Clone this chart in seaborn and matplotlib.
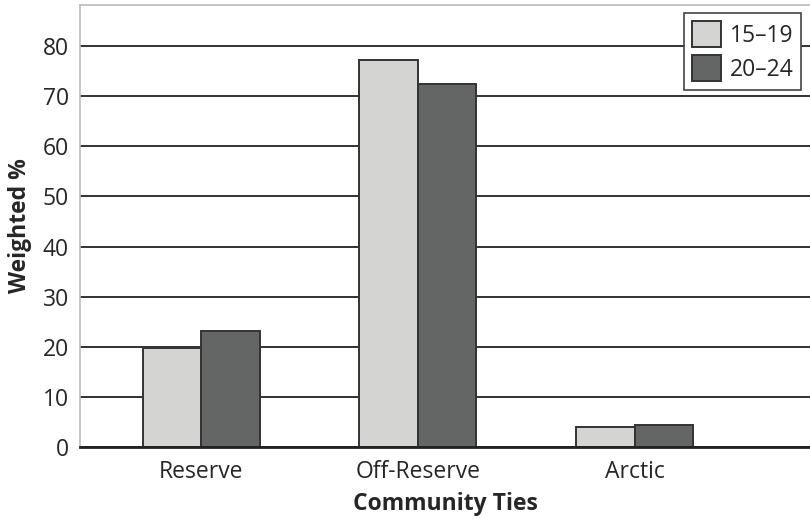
import pandas as pd
import matplotlib.pyplot as plt
import seaborn as sns
from matplotlib.ticker import FixedLocator

# Data
ties = ["Reserve", "Off-Reserve", "Arctic"]
ages = ["15\u201319", "20\u201324"]
pct_15_19 = [19.8, 77.3, 4.0]
pct_20_24 = [23.1, 72.5, 4.4]
y_ticks = [0, 10, 20, 30, 40, 50, 60, 70, 80]

df = pd.DataFrame({
    "tie": ties * 2,
    "age": [ages[0]] * 3 + [ages[1]] * 3,
    "pct": pct_15_19 + pct_20_24,
})

sns.set_style("white")
plt.rcParams["font.family"] = ["Open Sans", "DejaVu Sans"]

fig = plt.figure(figsize=(8.1, 5.19), dpi=100)
ax = fig.add_axes([80 / 810, 1 - 447 / 519, 730 / 810, 442 / 519])

sns.barplot(
    data=df, x="tie", y="pct", hue="age", ax=ax,
    palette=["#d4d4d2", "#636664"],
    width=0.54, gap=0,
    edgecolor="#333333", linewidth=1.4,
    zorder=3,
)

ax.set_xlim(-0.56, 2.81)
ax.set_ylim(0, 88.2)
ax.set_yticks(y_ticks)
ax.tick_params(axis="y", labelsize=16.5, length=2, width=1.2, color="#222222", pad=6)
ax.yaxis.grid(True, color="#222222", linewidth=1.3)
ax.set_axisbelow(True)

ax.tick_params(axis="x", which="major", length=0, labelsize=16.5, pad=9)
ax.xaxis.set_minor_locator(FixedLocator([0.5, 1.5, 2.5]))
ax.tick_params(axis="x", which="minor", length=17, width=1.3, color="#555555")

for side in ["left", "top"]:
    ax.spines[side].set_color("#bbbbbb")
    ax.spines[side].set_linewidth(1.2)
ax.spines["right"].set_visible(False)
ax.spines["bottom"].set_color("#222222")
ax.spines["bottom"].set_linewidth(2)
ax.spines["bottom"].set_zorder(4)

ax.set_xlabel("Community Ties", fontsize=16.5, fontweight="bold", labelpad=6)
ax.set_ylabel("Weighted %", fontsize=16.5, fontweight="bold", labelpad=8)

leg = ax.legend(
    loc="upper right", bbox_to_anchor=(0.988, 0.982),
    fontsize=16.5, frameon=True, fancybox=False,
    handlelength=1.3, handleheight=1.4, handletextpad=0.35,
    labelspacing=0.3, borderpad=0.35, borderaxespad=0,
)
leg.get_frame().set_edgecolor("#444444")
leg.get_frame().set_linewidth(1.2)
leg.get_frame().set_alpha(1)

plt.savefig("out.png", dpi=100)
print("Saved: out.png")
